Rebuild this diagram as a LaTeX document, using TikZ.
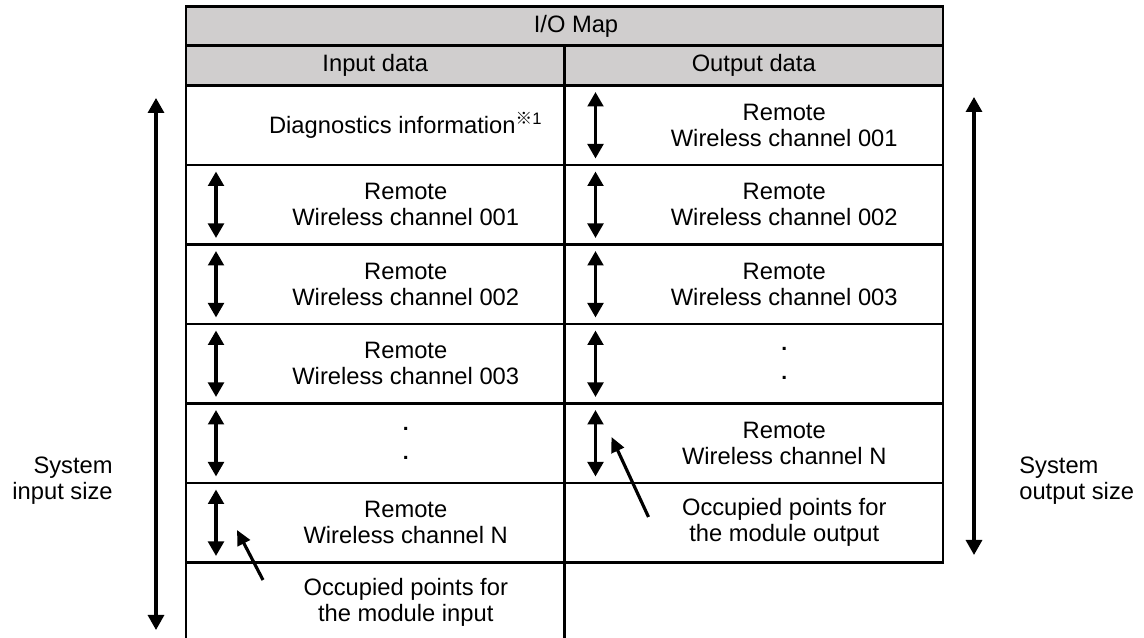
\documentclass[tikz,border=0pt]{standalone}
\usepackage{fontspec}
\setmainfont{Liberation Sans}
\newfontfamily\cjkfont{Noto Sans CJK JP}
\usepackage{xcolor}
\usepackage{tikz}
\usetikzlibrary{arrows.meta,positioning}
\definecolor{HeaderGray}{HTML}{D0CECE}
\tikzset{
  hdrbox/.style={
    draw,
    fill=HeaderGray,
    line width=1.2pt,
    font=\fontsize{13.5}{14.8}\selectfont,
    minimum width=7.57cm,
    minimum height=0.8cm,
    inner sep=0pt,
    outer sep=0pt
  },
  cellbox/.style={
    draw,
    line width=1.2pt,
    minimum width=7.57cm,
    minimum height=1.59cm,
    inner sep=0pt,
    outer sep=0pt
  },
  celltxt/.style={
    align=center,
    font=\fontsize{13.5}{14.8}\selectfont,
    xshift=0.61cm,
    inner sep=0pt
  },
  sidelbl/.style={
    font=\fontsize{13.5}{14.8}\selectfont,
    inner sep=0pt
  },
  spanarrow/.style={{Triangle[width=0.31cm,length=0.29cm]}-{Triangle[width=0.31cm,length=0.29cm]}, line width=2pt, shorten <=0.13cm, shorten >=0.13cm},
  sizearrow/.style={{Triangle[width=0.32cm,length=0.3cm]}-{Triangle[width=0.32cm,length=0.3cm]}, line width=1.8pt},
  ptrarrow/.style={-{Triangle[width=0.27cm,length=0.3cm]}, line width=1.8pt}
}

\begin{document}
\begin{tikzpicture}
\useasboundingbox (0,0) rectangle (22.88,12.76);
% header
\node[hdrbox, minimum width=15.14cm, minimum height=0.78cm] (iomap) at (11.29,12.24) {\hspace*{0.46cm}I/O Map};
\node[hdrbox, anchor=north west] (inhdr) at (iomap.south west) {Input data};
\node[hdrbox, right=0pt of inhdr] (outhdr) {Output data};
% input column
\node[cellbox, below=0pt of inhdr, label={[celltxt]center:Diagnostics information\textsuperscript{{\cjkfont ※}1}}] (indiag) {};
\node[cellbox, below=0pt of indiag, label={[celltxt]center:Remote\\Wireless channel 001}] (in1) {};
\node[cellbox, below=0pt of in1, label={[celltxt]center:Remote\\Wireless channel 002}] (in2) {};
\node[cellbox, below=0pt of in2, label={[celltxt]center:Remote\\Wireless channel 003}] (in3) {};
\node[cellbox, below=0pt of in3, label={[celltxt]center:\textbf{\large .}\\[0.06cm]\textbf{\large .}}] (indots) {};
\node[cellbox, below=0pt of indots, label={[celltxt]center:Remote\\Wireless channel N}] (inN) {};
\node[cellbox, below=0pt of inN, label={[celltxt]center:Occupied points for\\the module input}] (inocc) {};
% output column
\node[cellbox, below=0pt of outhdr, label={[celltxt]center:Remote\\Wireless channel 001}] (out1) {};
\node[cellbox, below=0pt of out1, label={[celltxt]center:Remote\\Wireless channel 002}] (out2) {};
\node[cellbox, below=0pt of out2, label={[celltxt]center:Remote\\Wireless channel 003}] (out3) {};
\node[cellbox, below=0pt of out3, label={[celltxt]center:\textbf{\large .}\\[0.06cm]\textbf{\large .}}] (outdots) {};
\node[cellbox, below=0pt of outdots, label={[celltxt]center:Remote\\Wireless channel N}] (outN) {};
\node[cellbox, below=0pt of outN, label={[celltxt]center:Occupied points for\\the module output}] (outocc) {};
% per-channel spans
\draw[spanarrow] ([xshift=0.6cm]in1.north west) -- ([xshift=0.6cm]in1.south west);
\draw[spanarrow] ([xshift=0.6cm]in2.north west) -- ([xshift=0.6cm]in2.south west);
\draw[spanarrow] ([xshift=0.6cm]in3.north west) -- ([xshift=0.6cm]in3.south west);
\draw[spanarrow] ([xshift=0.6cm]indots.north west) -- ([xshift=0.6cm]indots.south west);
\draw[spanarrow] ([xshift=0.6cm]inN.north west) -- ([xshift=0.6cm]inN.south west);
\draw[spanarrow] ([xshift=0.62cm]out1.north west) -- ([xshift=0.62cm]out1.south west);
\draw[spanarrow] ([xshift=0.62cm]out2.north west) -- ([xshift=0.62cm]out2.south west);
\draw[spanarrow] ([xshift=0.62cm]out3.north west) -- ([xshift=0.62cm]out3.south west);
\draw[spanarrow] ([xshift=0.62cm]outdots.north west) -- ([xshift=0.62cm]outdots.south west);
\draw[spanarrow] ([xshift=0.62cm]outN.north west) -- ([xshift=0.62cm]outN.south west);
% system sizes
\draw[sizearrow, shorten <=0.25cm, shorten >=0.24cm] ([xshift=-0.6cm]indiag.north west) -- ([xshift=-0.6cm]inocc.south west);
\draw[sizearrow, shorten <=0.23cm, shorten >=0.15cm] ([xshift=0.62cm]out1.north east) -- ([xshift=0.62cm]outocc.south east);
\node[sidelbl, align=right, anchor=east] (insize) at (2.26,3.14) {System\\input size};
\node[sidelbl, align=left, anchor=west] (outsize) at (20.38,3.14) {System\\output size};
% occupied points
\draw[ptrarrow] ([xshift=1.54cm,yshift=-0.35cm]inocc.north west) -- ([xshift=1.02cm,yshift=0.65cm]inN.south west);
\draw[ptrarrow] ([xshift=1.68cm,yshift=-0.68cm]outocc.north west) -- ([xshift=0.94cm,yshift=0.92cm]outN.south west);
\end{tikzpicture}
\end{document}
